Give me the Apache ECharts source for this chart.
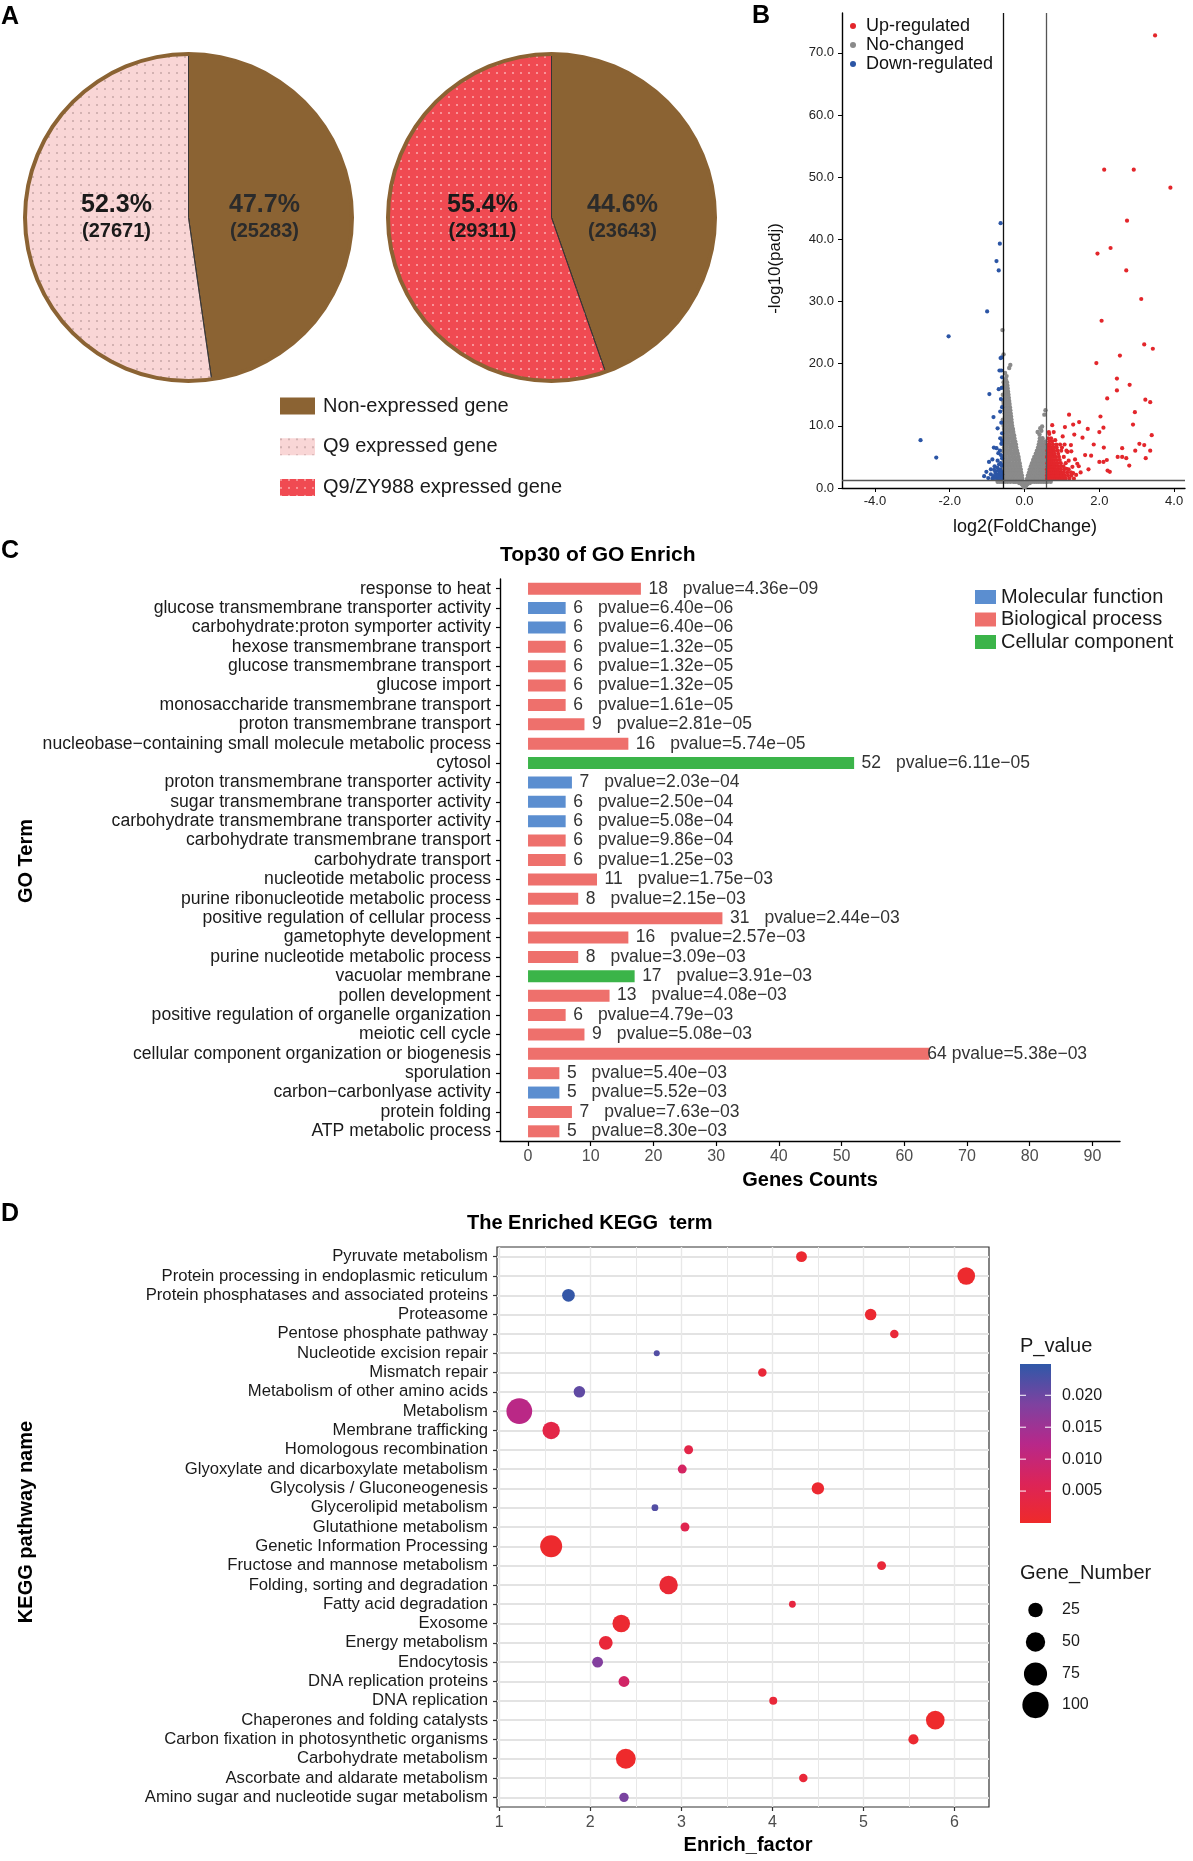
<!DOCTYPE html>
<html><head><meta charset="utf-8">
<script src="https://cdn.jsdelivr.net/npm/echarts@6/dist/echarts.min.js"></script>
<style>html,body{margin:0;padding:0;background:#fff}#c{width:1193px;height:1861px}</style>
</head><body><div id="c"></div>
<script>
const FONT = '"Liberation Sans", Arial, Helvetica, sans-serif';

// ---------- Panel A ----------
const pieNames = ['Non-expressed gene', 'Q9 expressed gene', 'Q9/ZY988 expressed gene'];
const pieQ9 = [25283, 27671];      // non-expressed, Q9 expressed
const pieZY = [23643, 29311];      // non-expressed, Q9/ZY988 expressed

// ---------- Panel B ----------
const volcanoNames = ['Up-regulated', 'No-changed', 'Down-regulated'];
const upRegulated = [
[3.49,72.8],[2.13,51.2],[2.92,51.2],[3.90,48.3],[2.74,43.0],[1.95,37.7],[2.30,38.6],[2.72,35.0],[3.12,30.4],[2.06,26.9],
[3.20,23.1],[3.43,22.4],[2.55,21.3],[1.92,20.1],[2.47,17.6],[2.81,16.6],[2.47,15.7],[2.21,14.4],[3.23,14.2],[3.36,13.8],
[2.95,12.2],[1.19,11.8],[2.03,11.5],[1.46,10.6],[2.90,10.2],[1.30,10.2],[0.74,10.1],[1.08,9.8],[2.11,9.7],[1.69,9.5],
[2.00,9.0],[0.66,8.7],[1.33,8.6],[3.40,8.5],[1.55,8.1],[1.02,8.3],[0.82,7.7],[1.24,6.9],[3.07,7.1],[3.20,6.9],
[1.85,7.0],[2.12,6.5],[2.61,6.4],[3.36,6.0],[2.96,6.0],[1.62,5.3],[1.78,5.2],[2.49,5.0],[2.61,5.0],[2.72,4.8],
[3.24,4.8],[2.00,4.2],[2.11,4.2],[2.20,4.5],[2.80,3.6],[1.71,3.0],[2.22,2.8],[2.28,2.6],[1.41,3.9],[1.30,2.4],
[1.15,5.8],[1.25,5.9],[1.35,4.6],[1.45,3.5],[1.50,2.5],[1.38,2.1],[1.18,4.4],[1.12,3.1],[1.28,3.4],
[0.60,1.5],[0.64,1.5],[0.68,1.5],[0.72,1.5],[0.77,1.5],[0.82,1.5],[0.88,1.5],[0.95,1.5],[1.02,1.5],[1.10,1.5],[1.20,1.5],[1.32,1.5],
[0.60,2.0],[0.63,2.0],[0.67,2.0],[0.71,2.0],[0.75,2.0],[0.80,2.0],[0.86,2.0],[0.92,2.0],[0.99,2.0],[1.07,2.0],[1.16,2.0],[1.25,2.0],
[0.61,2.5],[0.65,2.5],[0.69,2.5],[0.74,2.5],[0.79,2.5],[0.85,2.5],[0.91,2.5],[0.98,2.5],[1.05,2.5],[1.14,2.5],[1.24,2.5],
[0.60,3.0],[0.64,3.0],[0.68,3.0],[0.73,3.0],[0.78,3.0],[0.84,3.0],[0.90,3.0],[0.97,3.0],[1.06,3.0],[1.18,3.0],
[0.62,3.5],[0.66,3.5],[0.71,3.5],[0.76,3.5],[0.82,3.5],[0.89,3.5],[0.96,3.5],[1.04,3.5],
[0.61,4.0],[0.65,4.0],[0.70,4.0],[0.75,4.0],[0.81,4.0],[0.88,4.0],[0.97,4.0],[1.10,4.0],
[0.63,4.5],[0.68,4.5],[0.73,4.5],[0.79,4.5],[0.86,4.5],[0.94,4.5],
[0.60,5.0],[0.65,5.0],[0.70,5.0],[0.76,5.0],[0.83,5.0],[0.92,5.0],[1.05,5.0],
[0.62,5.5],[0.67,5.5],[0.73,5.5],[0.80,5.5],[0.90,5.5],
[0.61,6.0],[0.66,6.0],[0.72,6.0],[0.79,6.0],[0.88,6.0],[0.98,6.0],[1.12,6.0],
[0.64,6.5],[0.70,6.5],[0.77,6.5],[0.86,6.5],[1.00,6.5],
[0.62,7.0],[0.68,7.0],[0.76,7.0],[0.85,7.0],[0.95,7.0],[1.07,7.0],
[0.66,7.5],[0.74,7.5],[0.63,8.0],[0.71,8.0],[0.65,9.0],[0.78,9.0]
];
const noChanged = [
[-0.02,0.2],[-0.04,0.4],[-0.03,0.6],[-0.07,0.6],[-0.05,0.8],[-0.10,0.8],[-0.14,0.8],
[-0.05,1.0],[-0.10,1.0],[-0.15,1.0],[-0.20,1.0],[-0.25,1.0],[-0.30,1.0],[-0.38,1.0],[-0.45,1.0],[-0.52,1.0],[-0.60,1.0],[-0.66,1.0],[-0.72,1.0],
[-0.06,1.5],[-0.12,1.5],[-0.20,1.5],[-0.28,1.5],[-0.35,1.5],[-0.42,1.5],[-0.50,1.5],[-0.56,1.5],
[-0.07,2.0],[-0.14,2.0],[-0.22,2.0],[-0.30,2.0],[-0.38,2.0],[-0.46,2.0],[-0.54,2.0],[-0.58,2.0],
[-0.09,2.5],[-0.17,2.5],[-0.25,2.5],[-0.33,2.5],[-0.41,2.5],[-0.49,2.5],[-0.57,2.5],
[-0.10,3.0],[-0.18,3.0],[-0.26,3.0],[-0.34,3.0],[-0.42,3.0],[-0.50,3.0],[-0.56,3.0],
[-0.12,3.5],[-0.20,3.5],[-0.28,3.5],[-0.36,3.5],[-0.44,3.5],[-0.52,3.5],[-0.58,3.5],
[-0.13,4.0],[-0.21,4.0],[-0.30,4.0],[-0.38,4.0],[-0.46,4.0],[-0.54,4.0],
[-0.15,4.5],[-0.23,4.5],[-0.31,4.5],[-0.40,4.5],[-0.48,4.5],[-0.56,4.5],
[-0.16,5.0],[-0.25,5.0],[-0.33,5.0],[-0.41,5.0],[-0.50,5.0],[-0.57,5.0],
[-0.18,5.5],[-0.27,5.5],[-0.35,5.5],[-0.44,5.5],[-0.52,5.5],
[-0.20,6.0],[-0.28,6.0],[-0.37,6.0],[-0.45,6.0],[-0.53,6.0],[-0.58,6.0],
[-0.22,6.5],[-0.30,6.5],[-0.38,6.5],[-0.47,6.5],[-0.55,6.5],
[-0.23,7.0],[-0.32,7.0],[-0.40,7.0],[-0.48,7.0],[-0.56,7.0],
[-0.25,7.5],[-0.33,7.5],[-0.42,7.5],[-0.50,7.5],[-0.57,7.5],
[-0.27,8.0],[-0.35,8.0],[-0.43,8.0],[-0.51,8.0],[-0.58,8.0],
[-0.28,8.5],[-0.36,8.5],[-0.45,8.5],[-0.53,8.5],
[-0.30,9.0],[-0.38,9.0],[-0.46,9.0],[-0.54,9.0],
[-0.31,9.5],[-0.39,9.5],[-0.47,9.5],[-0.55,9.5],
[-0.33,10.0],[-0.41,10.0],[-0.49,10.0],[-0.56,10.0],
[-0.34,10.5],[-0.42,10.5],[-0.50,10.5],[-0.57,10.5],
[-0.35,11.0],[-0.43,11.0],[-0.51,11.0],[-0.58,11.0],
[-0.36,11.5],[-0.44,11.5],[-0.52,11.5],
[-0.37,12.0],[-0.45,12.0],[-0.53,12.0],
[-0.38,12.5],[-0.46,12.5],[-0.54,12.5],
[-0.39,13.0],[-0.47,13.0],[-0.55,13.0],
[-0.40,13.5],[-0.48,13.5],[-0.56,13.5],
[-0.41,14.0],[-0.49,14.0],[-0.57,14.0],
[-0.42,14.5],[-0.50,14.5],
[-0.43,15.0],[-0.51,15.0],[-0.58,15.0],
[-0.44,15.5],[-0.52,15.5],
[-0.45,16.0],[-0.53,16.0],
[-0.46,16.5],[-0.55,16.5],
[-0.47,17.0],[-0.56,17.0],
[-0.50,17.5],[-0.48,18.0],[-0.52,18.5],[-0.41,19.3],[-0.38,19.8],[-0.56,21.5],[-0.59,25.4],
[0.02,0.2],[0.04,0.4],[0.03,0.6],[0.07,0.6],[0.05,0.8],[0.10,0.8],[0.14,0.8],
[0.05,1.0],[0.10,1.0],[0.15,1.0],[0.20,1.0],[0.26,1.0],[0.32,1.0],[0.38,1.0],[0.44,1.0],[0.50,1.0],[0.56,1.0],[0.62,1.0],[0.70,1.0],
[0.07,1.5],[0.13,1.5],[0.19,1.5],[0.25,1.5],[0.31,1.5],[0.37,1.5],[0.43,1.5],[0.49,1.5],[0.55,1.5],
[0.09,2.0],[0.15,2.0],[0.21,2.0],[0.27,2.0],[0.33,2.0],[0.39,2.0],[0.45,2.0],[0.51,2.0],[0.57,2.0],
[0.12,2.5],[0.18,2.5],[0.24,2.5],[0.30,2.5],[0.36,2.5],[0.42,2.5],[0.48,2.5],[0.54,2.5],
[0.14,3.0],[0.20,3.0],[0.26,3.0],[0.32,3.0],[0.38,3.0],[0.44,3.0],[0.50,3.0],[0.56,3.0],
[0.17,3.5],[0.23,3.5],[0.29,3.5],[0.35,3.5],[0.41,3.5],[0.47,3.5],[0.53,3.5],
[0.20,4.0],[0.26,4.0],[0.32,4.0],[0.38,4.0],[0.44,4.0],[0.50,4.0],[0.56,4.0],
[0.23,4.5],[0.29,4.5],[0.35,4.5],[0.41,4.5],[0.47,4.5],[0.53,4.5],
[0.26,5.0],[0.32,5.0],[0.38,5.0],[0.44,5.0],[0.50,5.0],[0.56,5.0],
[0.30,5.5],[0.36,5.5],[0.42,5.5],[0.48,5.5],[0.54,5.5],
[0.33,6.0],[0.39,6.0],[0.45,6.0],[0.51,6.0],[0.57,6.0],
[0.36,6.5],[0.42,6.5],[0.48,6.5],[0.54,6.5],
[0.38,7.0],[0.44,7.0],[0.50,7.0],[0.56,7.0],
[0.40,7.5],[0.46,7.5],[0.55,7.5],
[0.41,8.0],[0.48,8.0],[0.40,8.6],[0.35,9.0],[0.45,9.2],[0.42,9.6],[0.47,9.9],[0.53,11.8],[0.56,12.5]
];
const downRegulated = [
[-0.64,42.6],[-0.66,39.3],[-0.75,36.5],[-0.69,35.0],[-1.00,28.4],[-2.03,24.4],[-0.64,20.9],[-0.61,21.0],[-0.67,18.9],[-0.62,18.9],
[-0.60,17.8],[-0.61,16.1],[-0.69,15.9],[-0.94,15.1],[-0.63,14.3],[-0.60,13.0],[-0.65,12.3],[-0.83,11.4],[-0.62,10.5],[-0.72,9.6],
[-0.60,8.8],[-2.78,7.7],[-0.60,7.6],[-0.65,8.0],[-0.62,7.1],[-0.82,6.5],[-0.75,6.4],[-0.66,6.0],[-0.70,5.6],[-0.63,5.3],
[-2.36,4.9],[-0.60,4.8],[-0.86,4.6],[-0.72,4.4],[-0.95,4.2],[-0.64,4.0],[-0.68,3.8],[-0.61,3.6],[-0.80,3.5],[-0.73,3.3],
[-0.65,3.0],[-0.90,3.0],[-0.69,2.8],[-0.77,2.7],[-0.62,2.6],[-1.02,2.6],[-0.78,2.4],[-0.60,2.2],[-0.90,2.2],[-0.70,2.1],
[-0.83,1.9],[-1.08,1.9],[-0.63,1.8],[-0.74,1.7],[-0.66,1.6],[-0.97,1.6],[-0.60,1.5],[-0.86,1.5],[-0.71,1.45],[-0.79,1.6],
[-0.68,2.3],[-0.75,2.0],[-0.81,2.9],[-0.64,2.4]
];
const volcanoXTicks = [-4, -2, 0, 2, 4];
const volcanoYTicks = [0, 10, 20, 30, 40, 50, 60, 70];
const fcCut = 0.585, padjCut = 1.301;

// ---------- Panel C ----------
const goTerms = [
'response to heat','glucose transmembrane transporter activity','carbohydrate:proton symporter activity',
'hexose transmembrane transport','glucose transmembrane transport','glucose import',
'monosaccharide transmembrane transport','proton transmembrane transport',
'nucleobase\u2212containing small molecule metabolic process','cytosol',
'proton transmembrane transporter activity','sugar transmembrane transporter activity',
'carbohydrate transmembrane transporter activity','carbohydrate transmembrane transport',
'carbohydrate transport','nucleotide metabolic process','purine ribonucleotide metabolic process',
'positive regulation of cellular process','gametophyte development','purine nucleotide metabolic process',
'vacuolar membrane','pollen development','positive regulation of organelle organization',
'meiotic cell cycle','cellular component organization or biogenesis','sporulation',
'carbon\u2212carbonlyase activity','protein folding','ATP metabolic process'];
const goCounts = [18,6,6,6,6,6,6,9,16,52,7,6,6,6,6,11,8,31,16,8,17,13,6,9,64,5,5,7,5];
const goPvalues = ['4.36e\u221209','6.40e\u221206','6.40e\u221206','1.32e\u221205','1.32e\u221205','1.32e\u221205',
'1.61e\u221205','2.81e\u221205','5.74e\u221205','6.11e\u221205','2.03e\u221204','2.50e\u221204','5.08e\u221204',
'9.86e\u221204','1.25e\u221203','1.75e\u221203','2.15e\u221203','2.44e\u221203','2.57e\u221203','3.09e\u221203',
'3.91e\u221203','4.08e\u221203','4.79e\u221203','5.08e\u221203','5.38e\u221203','5.40e\u221203','5.52e\u221203',
'7.63e\u221203','8.30e\u221203'];
const goTypes = ['BP','MF','MF','BP','BP','BP','BP','BP','BP','CC','MF','MF','MF','BP','BP','BP','BP','BP','BP','BP','CC','BP','BP','BP','BP','BP','MF','BP','BP'];
const goTypeKeys = ['MF', 'BP', 'CC'];
const goTypeNames = ['Molecular function', 'Biological process', 'Cellular component'];
const goXTicks = [0, 10, 20, 30, 40, 50, 60, 70, 80, 90];

// ---------- Panel D ----------
const keggTerms = ['Pyruvate metabolism','Protein processing in endoplasmic reticulum','Protein phosphatases and associated proteins',
'Proteasome','Pentose phosphate pathway','Nucleotide excision repair','Mismatch repair','Metabolism of other amino acids',
'Metabolism','Membrane trafficking','Homologous recombination','Glyoxylate and dicarboxylate metabolism',
'Glycolysis / Gluconeogenesis','Glycerolipid metabolism','Glutathione metabolism','Genetic Information Processing',
'Fructose and mannose metabolism','Folding, sorting and degradation','Fatty acid degradation','Exosome',
'Energy metabolism','Endocytosis','DNA replication proteins','DNA replication','Chaperones and folding catalysts',
'Carbon fixation in photosynthetic organisms','Carbohydrate metabolism','Ascorbate and aldarate metabolism',
'Amino sugar and nucleotide sugar metabolism'];
const keggEnrich = [4.32,6.13,1.76,5.08,5.34,2.73,3.89,1.88,1.22,1.57,3.08,3.01,4.50,2.71,3.04,1.57,5.20,2.86,4.22,2.34,2.17,2.08,2.37,4.01,5.79,5.55,2.39,4.34,2.37];
const keggPvalue = [0.0010,0.0005,0.0245,0.0010,0.0020,0.0220,0.0020,0.0210,0.0120,0.0040,0.0040,0.0075,0.0010,0.0220,0.0050,0.0005,0.0020,0.0015,0.0030,0.0010,0.0020,0.0180,0.0080,0.0020,0.0003,0.0010,0.0003,0.0020,0.0190];
const keggGeneNum = [12,40,18,14,6,2,6,14,95,39,7,7,17,3,7,67,7,45,3,40,22,12,12,5,46,10,53,6,8];
const keggXTicks = [1, 2, 3, 4, 5, 6];
const keggXGrid = [1, 1.5, 2, 2.5, 3, 3.5, 4, 4.5, 5, 5.5, 6];
const pBreaks = [0.005, 0.010, 0.015, 0.020];
const sizeBreaks = [25, 50, 75, 100];

// ---------- styles ----------
const BROWN = '#8B6333', PINK = '#F9D6D6', RED = '#F04A52';
const typeColor = {MF: '#5B8ED0', BP: '#EE706C', CC: '#3BB449'};
const pColors = ['#EF2A2A', '#DC2458', '#B7288A', '#7D42A0', '#2F58A8'];
const pMax = 0.0249;
const bubbleSize = n => 2.7 + 2.36 * Math.sqrt(n);

function pct(v, arr) { return (v / arr.reduce((a, b) => a + b, 0) * 100).toFixed(1) + '%'; }

function pieSeries(center, values, secondName, secondColor, decalColor, labelDx) {
  const rich = {
    a: {fontFamily: FONT, fontSize: 25, fontWeight: 'bold', lineHeight: 27},
    b: {fontFamily: FONT, fontSize: 20, fontWeight: 'bold', lineHeight: 25}
  };
  return [{
    type: 'pie', center: center, radius: [0, 164], startAngle: 90, clockwise: true,
    silent: true, emphasis: {disabled: true}, labelLine: {show: false}, z: 2,
    itemStyle: {borderColor: '#333', borderWidth: 0.8},
    label: {show: true, position: 'inside', rich: rich,
      formatter: p => '{a|' + pct(p.value, values) + '}\n{b|(' + p.value + ')}'},
    labelLayout: p => ({x: center[0] + labelDx[p.dataIndex], y: center[1], align: 'center', verticalAlign: 'middle'}),
    data: [
      {name: pieNames[0], value: values[0], itemStyle: {color: BROWN}, label: {color: '#2b2b2b'}},
      {name: secondName, value: values[1], itemStyle: {color: secondColor,
        decal: {symbol: 'circle', symbolSize: 1, dashArrayX: [1.6, 5.4], dashArrayY: [1.6, 5.4], color: decalColor}},
        label: {color: '#1a1a1a'}}
    ]
  }, {
    type: 'pie', center: center, radius: [161.5, 165.5], silent: true, z: 3,
    emphasis: {disabled: true}, label: {show: false}, labelLine: {show: false},
    data: [{name: 'ring', value: 1, itemStyle: {color: BROWN}}]
  }];
}

const series = [];
series.push(...pieSeries([188.5, 217.5], pieQ9, pieNames[1], PINK, 'rgba(150,120,120,0.5)', [76, -72]));
series.push(...pieSeries([551.5, 217.5], pieZY, pieNames[2], RED, 'rgba(255,215,215,0.7)', [71, -69]));

// volcano
const volSym = {xAxisIndex: 0, yAxisIndex: 0, type: 'scatter', silent: true};
series.push(Object.assign({}, volSym, {name: volcanoNames[0], data: upRegulated, symbolSize: 4.2, itemStyle: {color: '#E3262B', opacity: 1}, z: 3}));
series.push(Object.assign({}, volSym, {name: volcanoNames[1], data: noChanged, symbolSize: 4.4, itemStyle: {color: '#8A8A8A', opacity: 1}, z: 2,
  markLine: {silent: true, symbol: ['none', 'none'], label: {show: false}, z: 4, animation: false,
    data: [
      {xAxis: -fcCut, lineStyle: {color: '#111', width: 1.3, type: 'solid'}},
      {xAxis: fcCut, lineStyle: {color: '#555', width: 1.3, type: 'solid'}},
      {yAxis: padjCut, lineStyle: {color: '#555', width: 1.3, type: 'solid'}}
    ]}}));
series.push(Object.assign({}, volSym, {name: volcanoNames[2], data: downRegulated, symbolSize: 4.2, itemStyle: {color: '#2B55A5', opacity: 1}, z: 3}));

// GO bars
const maxCount = Math.max.apply(null, goCounts);
goTypeKeys.forEach((k, ti) => {
  series.push({
    type: 'bar', name: goTypeNames[ti], xAxisIndex: 1, yAxisIndex: 1, barWidth: 12, barGap: '-100%', silent: true,
    itemStyle: {color: typeColor[k]},
    label: {show: true, position: 'right', distance: 7.5, fontFamily: FONT, fontSize: 17.5, color: '#333',
      formatter: p => goCounts[p.dataIndex] + '{g| }pvalue=' + goPvalues[p.dataIndex],
      rich: {g: {width: 15, fontSize: 17.5}, h: {width: 5, fontSize: 17.5}}},
    data: goCounts.map((c, i) => {
      if (goTypes[i] !== k) return '-';
      if (c === maxCount) return {value: c, label: {distance: -2,
        formatter: p => goCounts[p.dataIndex] + '{h| }pvalue=' + goPvalues[p.dataIndex]}};
      return c;
    })
  });
});

// KEGG bubbles
const gridLines = keggTerms.map(t => ({yAxis: t, lineStyle: {color: '#E3E3E3', width: 2, type: 'solid'}}))
  .concat(keggXGrid.map(v => ({xAxis: v, lineStyle: {color: '#E8E8E8', width: Number.isInteger(v) ? 1.4 : 1, type: 'solid'}})));
const bubbleIndex = series.length;
series.push({
  type: 'scatter', xAxisIndex: 2, yAxisIndex: 2, silent: true, z: 3,
  data: keggTerms.map((t, i) => [keggEnrich[i], t, keggPvalue[i], keggGeneNum[i]]),
  symbolSize: v => bubbleSize(v[3]),
  itemStyle: {opacity: 1},
  markLine: {silent: true, symbol: ['none', 'none'], label: {show: false}, z: 1, animation: false, data: gridLines}
});

// ---------- graphics ----------
const g = [];
function txt(x, y, text, o) {
  o = o || {};
  g.push({type: 'text', x: x, y: y, rotation: o.rot || 0, silent: true, z: 10,
    style: {text: text, fontFamily: FONT, fontSize: o.size || 16, fontWeight: o.bold ? 'bold' : 'normal',
      fill: o.color || '#000', align: o.align || 'left', verticalAlign: o.va || 'middle',
      textAlign: o.align || 'left', textVerticalAlign: o.va || 'middle'}});
}
txt(1, 17, 'A', {size: 25, bold: true});
txt(752, 16, 'B', {size: 25, bold: true});
txt(1, 551, 'C', {size: 25, bold: true});
txt(1, 1214, 'D', {size: 25, bold: true});
txt(1025, 527, 'log2(FoldChange)', {size: 18, align: 'center', color: '#111'});
txt(775, 268.5, '-log10(padj)', {size: 17, align: 'center', rot: Math.PI / 2, color: '#111'});
txt(500, 555, 'Top30 of GO Enrich', {size: 21, bold: true});
txt(810, 1180, 'Genes Counts', {size: 20, bold: true, align: 'center'});
txt(26, 861, 'GO Term', {size: 20, bold: true, align: 'center', rot: Math.PI / 2});
txt(467, 1223, 'The Enriched KEGG  term', {size: 20, bold: true});
txt(748, 1845, 'Enrich_factor', {size: 20, bold: true, align: 'center'});
txt(26, 1522, 'KEGG pathway name', {size: 20, bold: true, align: 'center', rot: Math.PI / 2});
txt(1020, 1346, 'P_value', {size: 20, color: '#1a1a1a'});
txt(1020, 1573, 'Gene_Number', {size: 20, color: '#1a1a1a'});

const cbTop = 1364, cbBottom = 1523, cbLeft = 1020, cbW = 31;
const pY = p => cbBottom - p / pMax * (cbBottom - cbTop);
g.push({type: 'rect', silent: true, z: 9, shape: {x: cbLeft, y: cbTop, width: cbW, height: cbBottom - cbTop},
  style: {fill: new echarts.graphic.LinearGradient(0, 0, 0, 1,
    pColors.slice().reverse().map((c, i) => ({offset: i / (pColors.length - 1), color: c})))}});
pBreaks.forEach(p => {
  const y = pY(p);
  g.push({type: 'line', silent: true, z: 10, shape: {x1: cbLeft, y1: y, x2: cbLeft + 6, y2: y}, style: {stroke: '#fff', lineWidth: 1}});
  g.push({type: 'line', silent: true, z: 10, shape: {x1: cbLeft + cbW - 6, y1: y, x2: cbLeft + cbW, y2: y}, style: {stroke: '#fff', lineWidth: 1}});
  txt(1062, y, p.toFixed(3), {size: 16, color: '#1a1a1a'});
});
const sizeY = [1610, 1642, 1674, 1705];
sizeBreaks.forEach((n, i) => {
  g.push({type: 'circle', silent: true, z: 10, shape: {cx: 1035.5, cy: sizeY[i], r: bubbleSize(n) / 2}, style: {fill: '#000'}});
  txt(1062, sizeY[i], String(n), {size: 16, color: '#1a1a1a'});
});

const axisBlack = {show: true, onZero: false, lineStyle: {color: '#000', width: 1.4}};

const option = {
  animation: false,
  backgroundColor: '#fff',
  textStyle: {fontFamily: FONT},
  legend: [
    {data: pieNames, orient: 'vertical', left: 280, top: 396, padding: 0, itemWidth: 35, itemHeight: 17, itemGap: 20.7,
      icon: 'rect', selectedMode: false, itemStyle: {borderWidth: 0},
      textStyle: {fontFamily: FONT, fontSize: 20, lineHeight: 20, color: '#1a1a1a', padding: [0, 0, 0, 3]}},
    {data: volcanoNames, orient: 'vertical', left: 850, top: 17, padding: 0, itemWidth: 6, itemHeight: 6, itemGap: 1,
      icon: 'circle', selectedMode: false, textStyle: {fontFamily: FONT, fontSize: 18, lineHeight: 18, color: '#111', padding: [0, 0, 0, 5]}},
    {data: goTypeNames, orient: 'vertical', left: 975, top: 587, padding: 0, itemWidth: 21, itemHeight: 14, itemGap: 2.5,
      icon: 'rect', selectedMode: false, textStyle: {fontFamily: FONT, fontSize: 20, lineHeight: 20, color: '#1a1a1a'}}
  ],
  grid: [
    {left: 842, top: 13, width: 343, height: 475},
    {left: 500, top: 579, width: 620, height: 562},
    {left: 497, top: 1247, width: 492, height: 560, show: true, borderColor: '#333', borderWidth: 1.2, backgroundColor: 'transparent'}
  ],
  xAxis: [
    {gridIndex: 0, type: 'value', min: -4.88, max: 4.29, axisLine: axisBlack,
      axisTick: {show: true, customValues: volcanoXTicks, length: 4, lineStyle: {color: '#000'}},
      axisLabel: {customValues: volcanoXTicks, formatter: v => v.toFixed(1), fontFamily: FONT, fontSize: 13, color: '#222', margin: 7},
      splitLine: {show: false}},
    {gridIndex: 1, type: 'value', min: -4.47, max: 94.4, axisLine: axisBlack,
      axisTick: {show: true, customValues: goXTicks, length: 5, lineStyle: {color: '#000', width: 1.2}},
      axisLabel: {customValues: goXTicks, fontFamily: FONT, fontSize: 16, color: '#4D4D4D', margin: 8},
      splitLine: {show: false}},
    {gridIndex: 2, type: 'value', min: 0.975, max: 6.38, axisLine: {show: false, onZero: false},
      axisTick: {show: true, customValues: keggXTicks, length: 4, lineStyle: {color: '#333', width: 1.2}},
      axisLabel: {customValues: keggXTicks, fontFamily: FONT, fontSize: 16, color: '#4D4D4D', margin: 8},
      splitLine: {show: false}}
  ],
  yAxis: [
    {gridIndex: 0, type: 'value', min: 0, max: 76.4, axisLine: axisBlack,
      axisTick: {show: true, customValues: volcanoYTicks, length: 4, lineStyle: {color: '#000'}},
      axisLabel: {customValues: volcanoYTicks, formatter: v => v.toFixed(1), fontFamily: FONT, fontSize: 13, color: '#222', margin: 8},
      splitLine: {show: false}},
    {gridIndex: 1, type: 'category', inverse: true, data: goTerms, axisLine: axisBlack,
      axisTick: {show: true, alignWithLabel: true, length: 4, lineStyle: {color: '#000', width: 1.2}},
      axisLabel: {fontFamily: FONT, fontSize: 17.6, color: '#1a1a1a', margin: 9, interval: 0},
      splitLine: {show: false}},
    {gridIndex: 2, type: 'category', inverse: true, data: keggTerms, axisLine: {show: false, onZero: false},
      axisTick: {show: true, alignWithLabel: true, length: 4, lineStyle: {color: '#333', width: 1.2}},
      axisLabel: {fontFamily: FONT, fontSize: 16.7, color: '#1a1a1a', margin: 9, interval: 0},
      splitLine: {show: false}}
  ],
  visualMap: [{type: 'continuous', show: false, seriesIndex: bubbleIndex, dimension: 2, min: 0, max: pMax,
    inRange: {color: pColors}}],
  series: series,
  graphic: g
};

const chart = echarts.init(document.getElementById('c'), null, {renderer: 'canvas'});
chart.setOption(option);
</script>
</body></html>
